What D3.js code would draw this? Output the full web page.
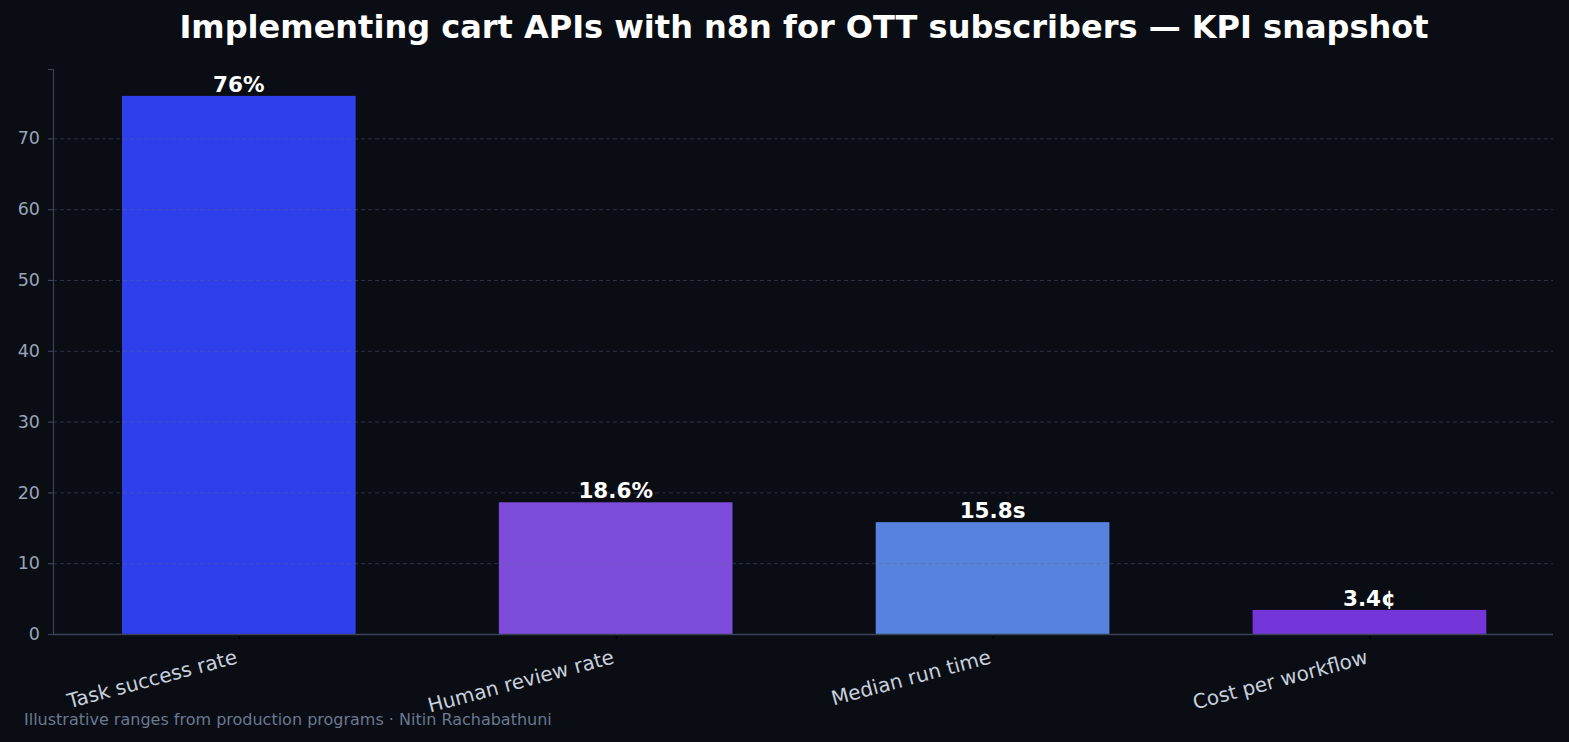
<!DOCTYPE html>
<html><head><meta charset="utf-8">
<script src="https://cdn.jsdelivr.net/npm/d3@7"></script>
<style>html,body{margin:0;padding:0;background:#0a0d14;}svg{display:block;}</style>
</head><body>
<script>
const categories = ["Task success rate", "Human review rate", "Median run time", "Cost per workflow"];
const values = [76, 18.6, 15.8, 3.4];
const valueLabels = ["76%", "18.6%", "15.8s", "3.4¢"];
const barColors = ["#2f3fec", "#7e4cdb", "#5783de", "#7536d9"];
const yTicks = [0, 10, 20, 30, 40, 50, 60, 70];
const title = "Implementing cart APIs with n8n for OTT subscribers — KPI snapshot";
const footer = "Illustrative ranges from production programs · Nitin Rachabathuni";

const W = 1569, H = 742;
const m = {left: 53, right: 1553, top: 69, bottom: 634};
const svg = d3.select("body").append("svg").attr("width", W).attr("height", H)
  .style("font-family", "'DejaVu Sans', sans-serif");
svg.append("rect").attr("width", W).attr("height", H).attr("fill", "#0a0d14");

const x = d3.scaleLinear().domain([-0.493, categories.length - 0.513]).range([m.left, m.right]);
const y = d3.scaleLinear().domain([0, d3.max(values) * 1.05]).range([m.bottom, m.top]);
const bw = x(0.31) - x(0);

// bars
svg.selectAll("rect.bar").data(values).enter().append("rect")
  .attr("x", (d, i) => x(i) - bw)
  .attr("width", bw * 2)
  .attr("y", d => y(d))
  .attr("height", d => y(0) - y(d))
  .attr("fill", (d, i) => barColors[i]);

// grid (above bars)
svg.append("g").selectAll("line").data(yTicks.filter(t => t > 0)).enter().append("line")
  .attr("x1", m.left).attr("x2", m.right)
  .attr("y1", d => y(d) + 0.5).attr("y2", d => y(d) + 0.5)
  .attr("stroke", "#5a6680").attr("stroke-opacity", 0.42)
  .attr("stroke-width", 1).attr("stroke-dasharray", "4,3");

// y axis
const yAxis = svg.append("g").attr("transform", `translate(${m.left},0)`)
  .call(d3.axisLeft(y).tickValues(yTicks).tickSize(5).tickPadding(8));
yAxis.select(".domain").attr("stroke", "#3a4354").attr("stroke-width", 1.2);
yAxis.selectAll(".tick line").attr("stroke", "#3a4354").attr("stroke-width", 1.2);
yAxis.selectAll(".tick text").attr("fill", "#9aa4b8").attr("font-size", 17.5)
  .attr("font-family", "'DejaVu Sans', sans-serif");

// x axis
const xAxis = svg.append("g").attr("transform", `translate(0,${m.bottom})`)
  .call(d3.axisBottom(x).tickValues(d3.range(categories.length)).tickFormat(i => categories[i]).tickSize(5).tickPadding(6).tickSizeOuter(0));
xAxis.select(".domain").attr("stroke", "#3a4354").attr("stroke-width", 1.6)
  .attr("d", `M${m.left},0.5H${m.right}`);
xAxis.selectAll(".tick line").attr("stroke", "#000000").attr("stroke-width", 1.2).attr("y1", 2);
xAxis.selectAll(".tick text").attr("fill", "#c8d0dc").attr("font-size", 20)
  .attr("font-family", "'DejaVu Sans', sans-serif")
  .attr("text-anchor", "end").attr("dy", null).attr("y", null)
  .attr("transform", "translate(-1,29) rotate(-15)");

// value labels
svg.selectAll("text.val").data(values).enter().append("text")
  .attr("x", (d, i) => x(i)).attr("y", d => y(d) - 4)
  .attr("text-anchor", "middle").attr("fill", "#ffffff")
  .attr("font-weight", "bold").attr("font-size", 21.5)
  .text((d, i) => valueLabels[i]);

// title
svg.append("text").attr("x", 804).attr("y", 38).attr("text-anchor", "middle")
  .attr("fill", "#ffffff").attr("font-weight", "bold").attr("font-size", 32).text(title);

// footer
svg.append("text").attr("x", 24).attr("y", 725).attr("fill", "#6b7890")
  .attr("font-size", 16).text(footer);
</script>
</body></html>
